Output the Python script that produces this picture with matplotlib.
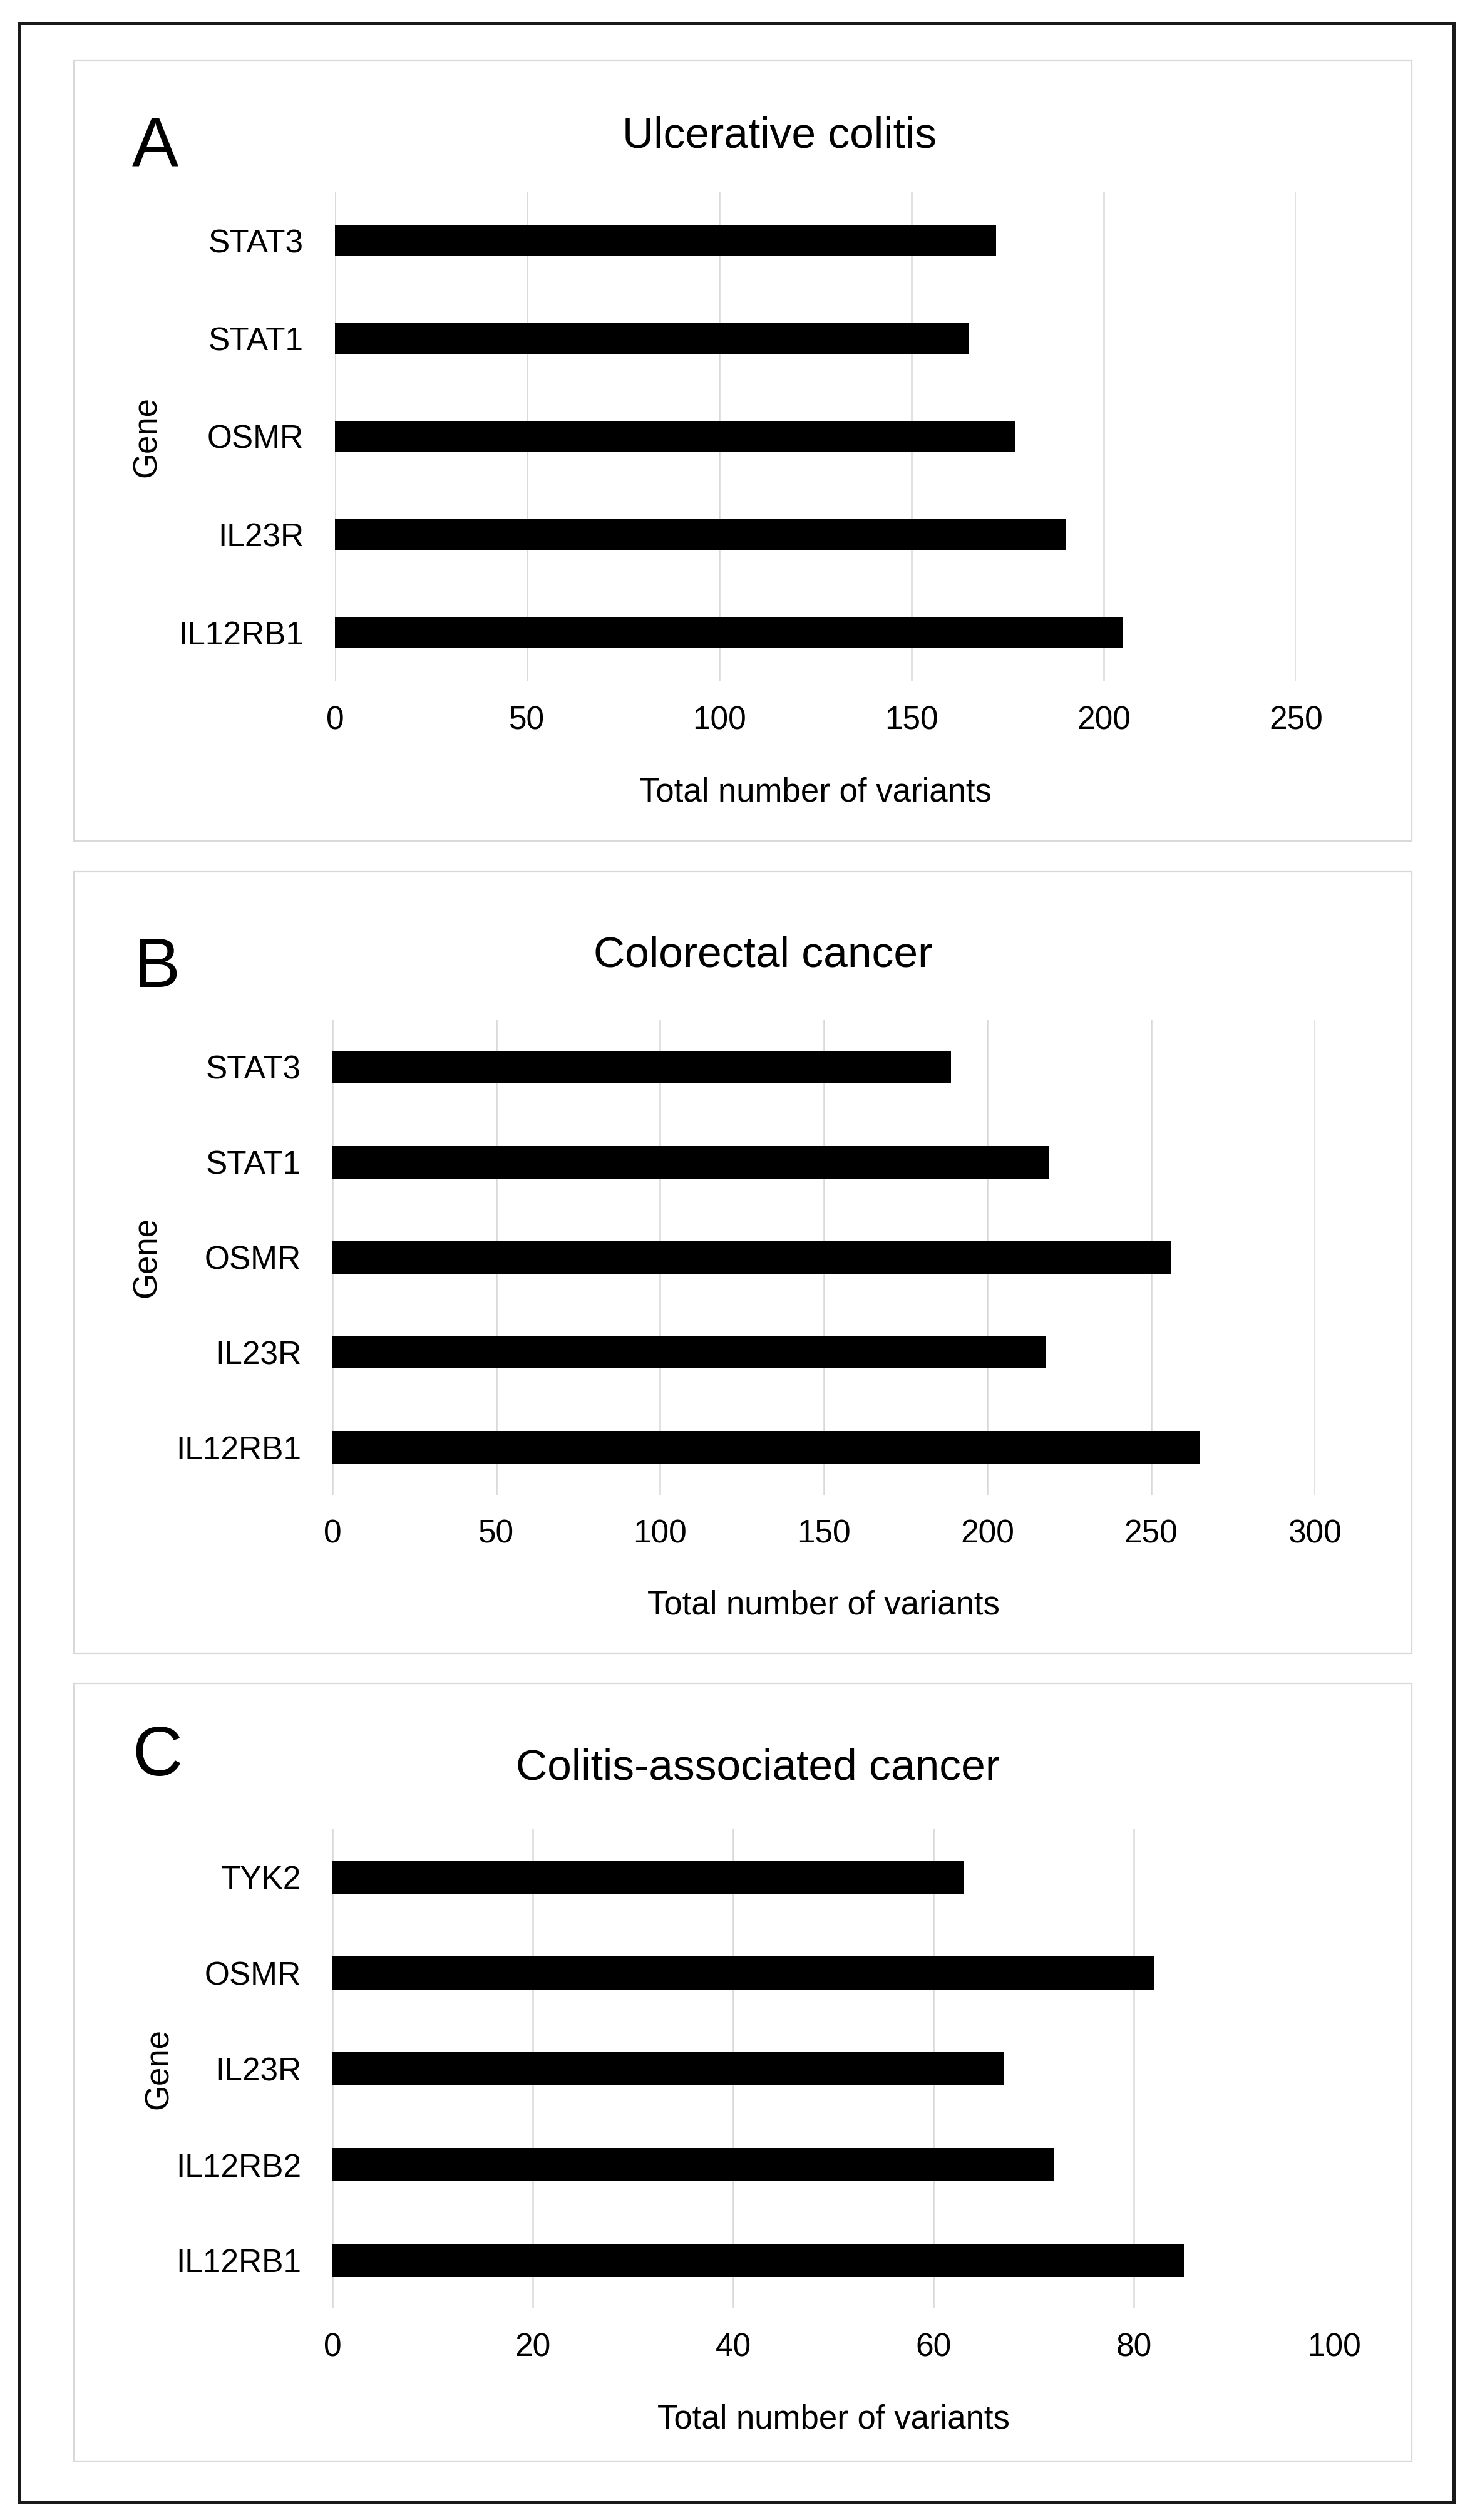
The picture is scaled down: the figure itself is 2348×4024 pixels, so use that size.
import matplotlib
matplotlib.use("Agg")
import matplotlib.pyplot as plt
from matplotlib.patches import Rectangle

plt.rcParams['font.family'] = ['Liberation Sans', 'DejaVu Sans']

# ---------------- data ----------------
genes_a = ['IL12RB1', 'IL23R', 'OSMR', 'STAT1', 'STAT3']
values_a = [205, 190, 177, 165, 172]
ticks_a = [0, 50, 100, 150, 200, 250]

genes_b = ['IL12RB1', 'IL23R', 'OSMR', 'STAT1', 'STAT3']
values_b = [265, 218, 256, 219, 189]
ticks_b = [0, 50, 100, 150, 200, 250, 300]

genes_c = ['IL12RB1', 'IL12RB2', 'IL23R', 'OSMR', 'TYK2']
values_c = [85, 72, 67, 82, 63]
ticks_c = [0, 20, 40, 60, 80, 100]

titles = ['Ulcerative colitis', 'Colorectal cancer', 'Colitis-associated cancer']
letters = ['A', 'B', 'C']
xlabel = 'Total number of variants'
ylabel = 'Gene'

# ---------------- layout (pixels) ----------------
W, H = 2348, 4024
DPI = 100
fig = plt.figure(figsize=(W / DPI, H / DPI), dpi=DPI)

def fx(x):
    return x / W

def fy(y):
    return 1 - y / H

# axes boxes: left, right, top, bottom (px)
axes_px = [
    (535, 2070, 306, 1088),
    (531, 2100, 1628, 2387),
    (531, 2131, 2921, 3686),
]
panel_px = [(118, 2255, 97, 1343), (118, 2255, 1392, 2640), (118, 2255, 2688, 3930)]
title_px = [(1245, 235), (1219, 1543), (1210, 2842)]
letter_px = [(211, 266), (214, 1576), (211, 2835)]
gene_px_x = [235, 235, 254]
bar_h = [0.32, 0.345, 0.345]

# outer border
fig.patches.append(Rectangle((fx(30), fy(3995)), fx(2322) - fx(30), fy(37) - fy(3995),
                             transform=fig.transFigure, fill=False,
                             edgecolor='#1a1a1a', linewidth=3.6, zorder=0))

datasets = [(genes_a, values_a, ticks_a), (genes_b, values_b, ticks_b), (genes_c, values_c, ticks_c)]

for i, ((genes, vals, ticks), (l, r, t, b)) in enumerate(zip(datasets, axes_px)):
    pl, pr, pt, pb = panel_px[i]
    fig.patches.append(Rectangle((fx(pl), fy(pb)), fx(pr) - fx(pl), fy(pt) - fy(pb),
                                 transform=fig.transFigure, fill=False,
                                 edgecolor='#d9d9d9', linewidth=1.6, zorder=0))
    ax = fig.add_axes([fx(l), fy(b), fx(r) - fx(l), fy(t) - fy(b)])
    ax.barh(range(len(genes)), vals, height=bar_h[i], color='black', zorder=3)
    ax.set_yticks(range(len(genes)))
    ax.set_yticklabels(genes)
    ax.set_ylim(-0.5, len(genes) - 0.5)
    ax.set_xlim(ticks[0], ticks[-1])
    ax.set_xticks(ticks)
    ax.set_xticklabels([str(v) for v in ticks])
    ax.grid(axis='x', color='#d9d9d9', linewidth=1.8, zorder=0)
    ax.set_axisbelow(True)
    for s in ax.spines.values():
        s.set_visible(False)
    ax.tick_params(axis='both', length=0, labelsize=37, colors='black')
    ax.tick_params(axis='x', pad=28)
    ax.tick_params(axis='y', pad=36)
    ax.patch.set_alpha(0)

    # x label
    axh = b - t
    ax.set_xlabel(xlabel, fontsize=38, color='black')
    ax.xaxis.set_label_coords(0.5, -(1240 - 1088) / axh)

    # y label
    fig.text(fx(gene_px_x[i]), fy((t + b) / 2), ylabel, rotation=90, fontsize=38,
             ha='center', va='center', color='black')

    # title & panel letter
    fig.text(fx(title_px[i][0]), fy(title_px[i][1]), titles[i], fontsize=50,
             ha='center', va='baseline', color='black')
    fig.text(fx(letter_px[i][0]), fy(letter_px[i][1]), letters[i], fontsize=80,
             ha='left', va='baseline', color='black')

fig.savefig('out.png', dpi=DPI, facecolor='white')
